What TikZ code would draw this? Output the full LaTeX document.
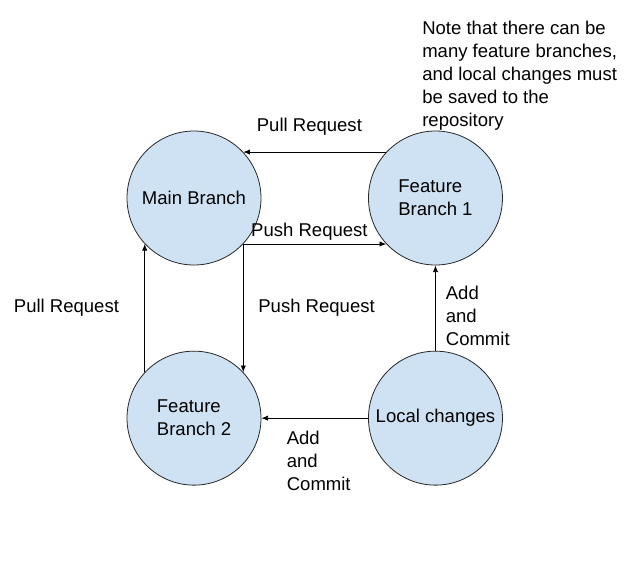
\documentclass[tikz,border=0pt]{standalone}
\usepackage{fontspec}
\setmainfont{Liberation Sans}
\usetikzlibrary{arrows.meta,positioning}
\definecolor{branchfill}{HTML}{CFE2F3}

\begin{document}
\begin{tikzpicture}[x=0.75pt, y=-0.75pt, node distance=64pt and 80pt,
  branch/.style={circle, draw=black!85, line width=0.6pt, fill=branchfill, minimum size=100.5pt, inner sep=0pt, align=left, font=\fontsize{13.9}{17.25}\selectfont},
  link/.style={-{Latex[length=5pt, width=4pt]}, line width=0.6pt},
  lbl/.style={font=\fontsize{13.9}{17.25}\selectfont, align=left, inner sep=0pt}]
\useasboundingbox (0,0) rectangle (631,569);
% the four circles
\node[branch] (main) at (194,198) {Main Branch};
\node[branch, right=of main] (feat1) {Feature\\Branch 1};
\node[branch, below=of main] (feat2) {Feature\\Branch 2};
\node[branch, below=of feat1] (local) {Local changes};
% note
\node[lbl, anchor=north west] (note) at (422,21) {Note that there can be\\many feature branches,\\and local changes must\\be saved to the\\repository};
% connectors
\draw[link] (feat1.137) -- node[lbl, above=12.5pt, xshift=-4pt] (pulltop) {Pull Request} (main.43);
\draw[link] (main.-43) -- node[lbl, above=2.5pt, xshift=-4pt] (pushmid) {Push Request} (feat1.-137);
\draw[link] (main.-43) -- node[lbl, right=11pt] (pushdown) {Push Request} (feat2.43);
\draw[link] (feat2.137) -- node[lbl, left=19pt] (pullup) {Pull Request} (main.-137);
\draw[link] (local.north) -- node[lbl, pos=0.41, right=7.5pt] (commitup) {Add\\and\\Commit} (feat1.south);
\draw[link] (local.west) -- node[lbl, below=9.5pt, xshift=3pt] (commitleft) {Add\\and\\Commit} (feat2.east);
\end{tikzpicture}
\end{document}
